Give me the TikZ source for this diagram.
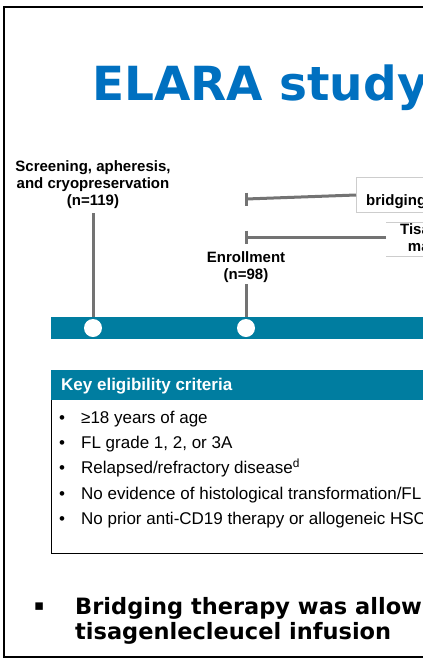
\documentclass[tikz,border=0pt]{standalone}
\usepackage{fontspec}
\setmainfont{Liberation Sans}
\newfontfamily\verdana{DejaVu Sans}
\usetikzlibrary{positioning}

\definecolor{elarablue}{RGB}{0,112,192}
\definecolor{elarateal}{RGB}{0,125,160}
\definecolor{stemgray}{RGB}{115,115,115}
\definecolor{boxgray}{RGB}{205,205,205}

\tikzset{
  stage/.style={font=\bfseries\fontsize{15}{17}\selectfont, align=center, inner sep=0pt},
  stem/.style={draw=stemgray, line width=3pt},
  dot/.style={circle, fill=white, minimum size=18pt, inner sep=0pt},
  crit/.style={anchor=base west, font=\fontsize{17}{20}\selectfont, inner sep=0pt},
}

\begin{document}
\begin{tikzpicture}[x=1pt,y=-1pt]
        \useasboundingbox (0,0) rectangle (423,659);
        \clip (0,0) rectangle (423,659);

        % slide frame
        \draw[line width=2pt] (440,7) -- (4,7) -- (4,657) -- (440,657);

        \node[anchor=base west, inner sep=0pt, text=elarablue,
              font=\verdana\bfseries\fontsize{47}{50}\selectfont] (title) at (92,100) {ELARA study design};

        % timeline
        \coordinate (t1) at (93,328);
        \coordinate (t2) at (246,328);
        \node[stage, anchor=north] (screen) at (93,160) {Screening, apheresis,\\and cryopreservation\\(n=119)};
        \node[stage, anchor=north] (enrol) at (246,251) {Enrollment\\(n=98)};
        \draw[stem] ([yshift=-5pt]screen.south) -- (t1);
        \draw[stem] ([yshift=-2pt]enrol.south) -- (t2);

        \fill[elarateal] (51,317) rectangle (440,339);
        \node[dot] (dot1) at (t1) {};
        \node[dot] (dot2) at (t2) {};

        % bridging and manufacturing windows
        \node[draw=boxgray, line width=1pt, anchor=north west, minimum width=120pt, minimum height=35pt] (bridge) at (356,177) {};
        \node[stage, anchor=west] (bridgetxt) at (366,202) {bridging therapy};
        \draw[boxgray, line width=1pt] (386,222) -- (440,222);
        \draw[boxgray, line width=1pt] (386,256) -- (440,256);
        \coordinate (manu) at (386,237);
        \node[stage, anchor=north] (manutxt) at (460,223) {Tisagenlecleucel\\manufacturing};

        \coordinate (brk1) at (246,199);
        \coordinate (brk2) at (246,237);
        \draw[stem] (bridge.west) -- (brk1);
        \draw[stem] ([yshift=6.5pt]brk1) -- ([yshift=-6.5pt]brk1);
        \draw[stem] (manu) -- (brk2);
        \draw[stem] ([yshift=6.5pt]brk2) -- ([yshift=-6.5pt]brk2);

        % eligibility box
        \draw[line width=1pt] (51,370) rectangle (440,553);
        \fill[elarateal] (51,370) rectangle (440,400);
        \node[anchor=west, inner sep=0pt, text=white, font=\bfseries\fontsize{17}{20}\selectfont] (crithead) at (61,386) {Key eligibility criteria};

        \foreach \txt [count=\i] in {≥18 years of age, {FL grade 1, 2, or 3A}, Relapsed/refractory disease\textsuperscript{d},
                                     No evidence of histological transformation/FL grade 3B,
                                     No prior anti-CD19 therapy or allogeneic HSCT} {
            \node[crit] (bul\i) at (59,{398+25.3*\i}) {•};
            \node[crit] (crit\i) at (81,{398+25.3*\i}) {\txt};
        }

        % note under the box
        \node[anchor=base west, inner sep=0pt, font=\verdana\bfseries\fontsize{15}{17}\selectfont] (sq) at (34,610) {▪};
        \node[anchor=north west, inner sep=0pt, align=left, font=\verdana\bfseries\fontsize{22.5}{25}\selectfont] (note) at (75,597)
            {Bridging therapy was allowed before\\tisagenlecleucel infusion};
\end{tikzpicture}
\end{document}
